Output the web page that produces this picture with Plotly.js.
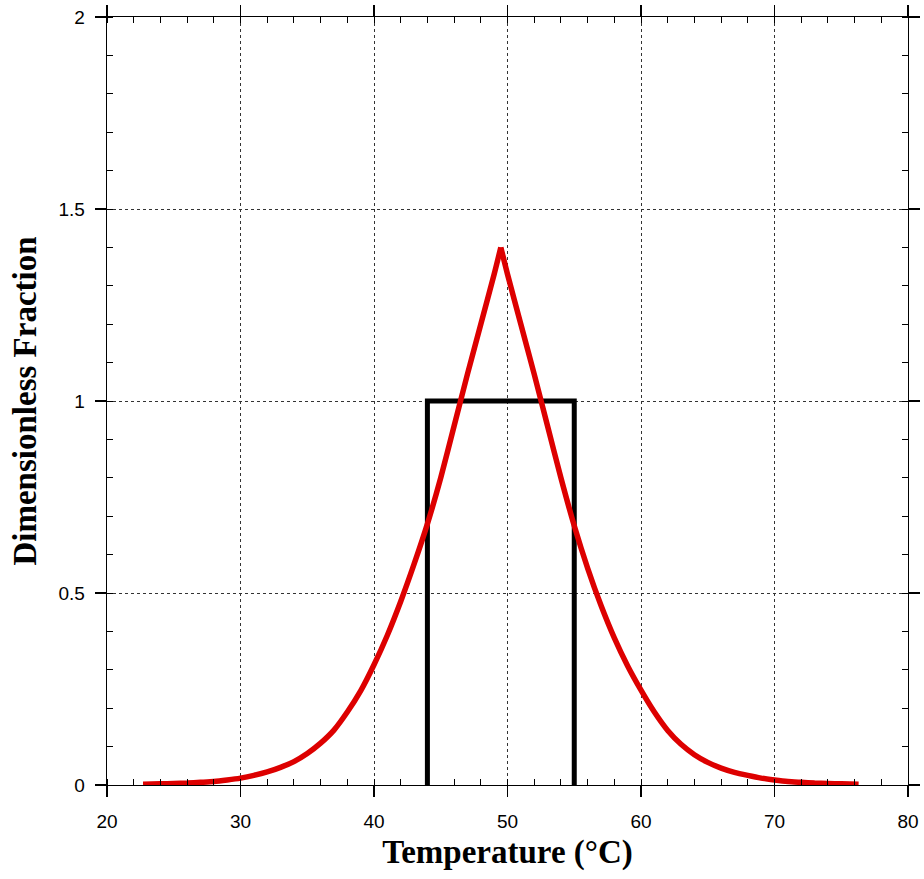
<!DOCTYPE html>
<html>
<head>
<meta charset="utf-8">
<script src="https://cdn.plot.ly/plotly-3.0.1.min.js"></script>
<style>html,body{margin:0;padding:0;background:#fff;}</style>
</head>
<body>
<div id="chart" style="width:924px;height:879px;"></div>
<script>
// Temperature (°C) and dimensionless fraction
var temperature = [22.7, 24, 25, 26, 27, 28, 29, 30, 31, 32, 33, 34, 35, 36, 37, 38, 39, 40, 41, 42, 43, 44, 45, 46, 47, 48, 49, 49.5,
                   50, 51, 52, 53, 54, 55, 56, 57, 58, 59, 60, 61, 62, 63, 64, 65, 66, 67, 68, 69, 70, 71, 72, 73, 74, 75, 76.3];
var fraction = [0.002, 0.003, 0.004, 0.005, 0.007, 0.009, 0.013, 0.018, 0.025, 0.034, 0.046, 0.061, 0.082, 0.109, 0.143, 0.19, 0.245, 0.313, 0.39, 0.478, 0.575, 0.68, 0.80, 0.935, 1.07, 1.20, 1.33, 1.40,
                1.33, 1.20, 1.07, 0.935, 0.80, 0.675, 0.565, 0.468, 0.383, 0.31, 0.247, 0.19, 0.142, 0.106, 0.079, 0.059, 0.044, 0.033, 0.025, 0.018, 0.013, 0.009, 0.007, 0.005, 0.004, 0.003, 0.002];
// Rectangular window
var windowX = [44, 44, 55, 55];
var windowY = [0, 1, 1, 0];

// split the curve at its peak so each flank can be smoothed while the cusp stays sharp
var peakIdx = fraction.indexOf(Math.max.apply(null, fraction));
function flank(a, b) {
  return {x: temperature.slice(a, b), y: fraction.slice(a, b), type: 'scatter', mode: 'lines',
          line: {color: '#dd0000', width: 5.5, shape: 'spline', smoothing: 0.6}, showlegend: false};
}

var traces = [
  {x: windowX, y: windowY, type: 'scatter', mode: 'lines',
   line: {color: '#000000', width: 5}, hoverinfo: 'skip', showlegend: false},
  flank(0, peakIdx + 1),
  flank(peakIdx, temperature.length)
];

var axisCommon = {
  showline: true, linecolor: '#000', linewidth: 1.3, mirror: 'allticks',
  ticks: 'outside', ticklen: 11, tickwidth: 1.3, tickcolor: '#000',
  showgrid: true, gridcolor: '#333', griddash: 'dot', gridwidth: 1,
  zeroline: false,
  tickfont: {family: 'Liberation Sans, Arial, sans-serif', size: 19, color: '#000'}
};

var layout = {
  width: 924, height: 879,
  margin: {l: 107, r: 16, t: 17, b: 94},
  paper_bgcolor: '#fff', plot_bgcolor: '#fff',
  showlegend: false,
  xaxis: Object.assign({}, axisCommon, {
    range: [20, 80], dtick: 10, tick0: 20,
    ticklabelstandoff: 8,
    minor: {dtick: 2, ticks: 'inside', ticklen: 6, tickwidth: 1, tickcolor: '#000', showgrid: false},
    title: {text: 'Temperature (°C)', standoff: 8,
            font: {family: 'Liberation Serif, Times New Roman, serif', size: 33, color: '#000', weight: 'bold'}}
  }),
  yaxis: Object.assign({}, axisCommon, {
    range: [0, 2], dtick: 0.5, tick0: 0,
    ticklabelstandoff: 6,
    minor: {dtick: 0.1, ticks: 'inside', ticklen: 6, tickwidth: 1, tickcolor: '#000', showgrid: false},
    title: {text: 'Dimensionless Fraction', standoff: 12,
            font: {family: 'Liberation Serif, Times New Roman, serif', size: 33, color: '#000', weight: 'bold'}}
  })
};

Plotly.newPlot('chart', traces, layout, {displayModeBar: false, staticPlot: true});
</script>
</body>
</html>
